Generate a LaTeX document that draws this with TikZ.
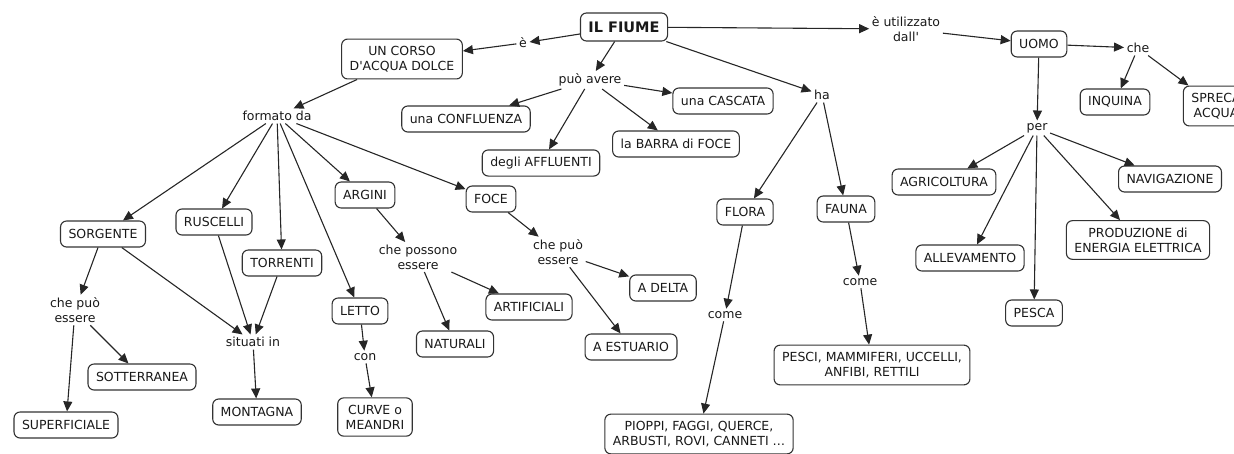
\documentclass[tikz,border=0pt]{standalone}
\usepackage{fontspec}
\setmainfont{DejaVu Sans}
\usepackage{xcolor}
\usepackage{tikz}
\usetikzlibrary{arrows.meta, positioning}

\begin{document}
\begin{tikzpicture}[x=1pt, y=-1pt,
            every node/.style={text=black!90, font=\fontsize{12.5}{15}\selectfont},
            concept/.style={draw=black!80, line width=1.1pt, rectangle, rounded corners=6pt, fill=white, align=center, inner xsep=8pt, inner ysep=7pt, minimum height=26pt},
            title/.style={concept, font=\fontsize{14.5}{17}\selectfont\bfseries, minimum height=28pt},
            phrase/.style={align=center, inner sep=2.5pt},
            arrow/.style={line width=1.1pt, draw=black!85, -{Triangle[length=10pt, width=9pt]}}]

            \useasboundingbox (0,0) rectangle (1234,453);

            % Top
            \node (fiume) [title] at (624,27) {IL FIUME};
            \node (e_lbl) [phrase] at (523,43) {è};
            \node (corso) [concept] at (402,59) {UN CORSO\\D\textquotesingle ACQUA DOLCE};
            \node (puo) [phrase] at (590,80) {può avere};
            \node (ha) [phrase] at (822,95) {ha};
            \node (usato) [phrase] at (906,29) {è utilizzato\\dall\textquotesingle};
            \node (uomo) [concept] at (1039,44) {UOMO};

            % Middle: può avere
            \node (confluenza) [concept] at (466,119) {una CONFLUENZA};
            \node (cascata) [concept] at (723,101) {una CASCATA};
            \node (barra) [concept] at (676,144) {la BARRA di FOCE};
            \node (affluenti) [concept] at (541,163) {degli AFFLUENTI};

            % Left: formato da
            \node (formato) [phrase] at (277,116) {formato da};
            \node (sorgente) [concept] at (103,234) {SORGENTE};
            \node (ruscelli) [concept] at (214,222) {RUSCELLI};
            \node (torrenti) [concept] at (282,263) {TORRENTI};
            \node (argini) [concept] at (365,195) {ARGINI};
            \node (foce) [concept] at (491,199) {FOCE};
            \node (letto) [concept] at (360,311) {LETTO};
            \node (con) [phrase] at (365,357) {con};
            \node (curve) [concept] at (375,417) {CURVE o\\MEANDRI};
            \node (che_sorgente) [phrase] at (75,310) {che può\\essere};
            \node (situati) [phrase] at (253,342) {situati in};
            \node (sotterranea) [concept] at (142,377) {SOTTERRANEA};
            \node (superficiale) [concept] at (66,425) {SUPERFICIALE};
            \node (montagna) [concept] at (257,412) {MONTAGNA};
            \node (che_argini) [phrase] at (418,257) {che possono\\essere};
            \node (artificiali) [concept] at (529,307) {ARTIFICIALI};
            \node (naturali) [concept] at (455,344) {NATURALI};
            \node (che_foce) [phrase] at (558,252) {che può\\essere};
            \node (delta) [concept] at (663,288) {A DELTA};
            \node (estuario) [concept] at (631,347) {A ESTUARIO};

            % Flora and fauna
            \node (flora) [concept] at (745,212) {FLORA};
            \node (fauna) [concept] at (846,209) {FAUNA};
            \node (come_flora) [phrase] at (725,315) {come};
            \node (come_fauna) [phrase] at (860,282) {come};
            \node (piante) [concept] at (699,434) {PIOPPI, FAGGI, QUERCE,\\ARBUSTI, ROVI, CANNETI \dots};
            \node (animali) [concept] at (872,365) {PESCI, MAMMIFERI, UCCELLI,\\ANFIBI, RETTILI};

            % Right: uomo
            \node (che_uomo) [phrase] at (1138,48) {che};
            \node (inquina) [concept] at (1115,102) {INQUINA};
            \node (spreca) [concept] at (1216,106) {SPRECA\\ACQUA};
            \node (per) [phrase] at (1037,128) {per};
            \node (agricoltura) [concept] at (944,182) {AGRICOLTURA};
            \node (navigazione) [concept] at (1170,179) {NAVIGAZIONE};
            \node (allevamento) [concept] at (970,258) {ALLEVAMENTO};
            \node (pesca) [concept] at (1034,313) {PESCA};
            \node (energia) [concept] at (1138,240) {PRODUZIONE di\\ENERGIA ELETTRICA};

            % Connections
            \draw [arrow] (fiume) -- (e_lbl);
            \draw [arrow] (e_lbl) -- (corso);
            \draw [arrow] (fiume) -- (puo);
            \draw [arrow] (puo) -- (confluenza);
            \draw [arrow] (puo) -- (affluenti);
            \draw [arrow] (puo) -- (barra);
            \draw [arrow] (puo) -- (cascata);
            \draw [arrow] (fiume) -- (ha);
            \draw [arrow] (ha) -- (flora);
            \draw [arrow] (ha) -- (fauna);
            \draw [arrow] (fiume) -- (usato);
            \draw [arrow] (usato) -- (uomo);

            \draw [arrow] (corso) -- (formato);
            \draw [arrow] (formato) -- (sorgente);
            \draw [arrow] (formato) -- (ruscelli);
            \draw [arrow] (formato) -- (torrenti);
            \draw [arrow] (formato) -- (letto);
            \draw [arrow] (formato) -- (argini);
            \draw [arrow] (formato) -- (foce);

            \draw [arrow] (sorgente) -- (che_sorgente);
            \draw [arrow] (che_sorgente) -- (sotterranea);
            \draw [arrow] (che_sorgente) -- (superficiale);
            \draw [arrow] (sorgente) -- (situati);
            \draw [arrow] (ruscelli) -- (situati);
            \draw [arrow] (torrenti) -- (situati);
            \draw [arrow] (situati) -- (montagna);
            \draw [arrow] (letto) -- (con);
            \draw [arrow] (con) -- (curve);
            \draw [arrow] (argini) -- (che_argini);
            \draw [arrow] (che_argini) -- (artificiali);
            \draw [arrow] (che_argini) -- (naturali);
            \draw [arrow] (foce) -- (che_foce);
            \draw [arrow] (che_foce) -- (delta);
            \draw [arrow] (che_foce) -- (estuario);

            \draw [arrow] (flora) -- (come_flora);
            \draw [arrow] (come_flora) -- (piante);
            \draw [arrow] (fauna) -- (come_fauna);
            \draw [arrow] (come_fauna) -- (animali);

            \draw [arrow] (uomo) -- (che_uomo);
            \draw [arrow] (che_uomo) -- (inquina);
            \draw [arrow] (che_uomo) -- (spreca);
            \draw [arrow] (uomo) -- (per);
            \draw [arrow] (per) -- (agricoltura);
            \draw [arrow] (per) -- (allevamento);
            \draw [arrow] (per) -- (pesca);
            \draw [arrow] (per) -- (energia);
            \draw [arrow] (per) -- (navigazione);
        \end{tikzpicture}
\end{document}
